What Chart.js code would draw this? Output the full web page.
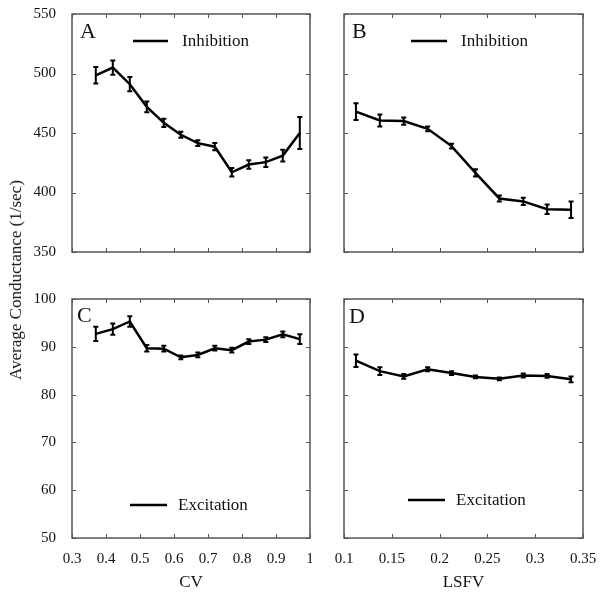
<!DOCTYPE html>
<html>
<head>
<meta charset="utf-8">
<script src="https://cdn.jsdelivr.net/npm/chart.js@4/dist/chart.umd.min.js"></script>
<style>
  body { margin: 0; background: #fff; }
  #wrap { position: relative; width: 604px; height: 596px; overflow: hidden; }
  canvas { position: absolute; }
  #ylab {
    position: absolute; left: 16px; top: 280px;
    transform: translate(-50%, -50%) rotate(-90deg);
    font-family: "Liberation Serif", serif; font-size: 17px;
    white-space: nowrap; color: #111;
  }
</style>
</head>
<body>
<div id="wrap">
  <canvas id="chartA" width="312" height="262" style="left:0;top:0"></canvas>
  <canvas id="chartB" width="332" height="262" style="left:272px;top:0"></canvas>
  <canvas id="chartC" width="312" height="311" style="left:0;top:285px"></canvas>
  <canvas id="chartD" width="332" height="311" style="left:272px;top:285px"></canvas>
  <div id="ylab">Average Conductance (1/sec)</div>
</div>
<script>
// x values
const cvX = [0.37, 0.42, 0.47, 0.52, 0.57, 0.62, 0.67, 0.72, 0.77, 0.82, 0.87, 0.92, 0.97];
const lsfvX = [0.1125, 0.1375, 0.1625, 0.1875, 0.2125, 0.2375, 0.2625, 0.2875, 0.3125, 0.3375];

// inhibition
const inhCv = [498.5, 505, 491, 472, 458.5, 448.5, 441.5, 438.5, 417, 423.5, 425.5, 431, 450];
const inhCvErr = [7, 6, 6, 4.5, 3.5, 2.5, 2.5, 3, 3.5, 3.5, 4, 5, 13.5];
const inhLsfv = [468, 460.5, 460, 453.5, 439, 416.5, 395, 392.5, 386, 385.5];
const inhLsfvErr = [7, 5, 3, 2, 2, 3, 2.5, 3, 4, 7];

// excitation
const excCv = [92.7, 93.7, 95.3, 89.7, 89.6, 87.8, 88.3, 89.7, 89.3, 91.1, 91.5, 92.6, 91.6];
const excCvErr = [1.5, 1.2, 1.1, 0.7, 0.6, 0.4, 0.5, 0.5, 0.5, 0.5, 0.5, 0.6, 1.0];
const excLsfv = [87.1, 84.9, 83.8, 85.3, 84.5, 83.7, 83.3, 84.0, 83.9, 83.2];
const excLsfvErr = [1.3, 0.8, 0.5, 0.4, 0.4, 0.3, 0.3, 0.4, 0.4, 0.6];

// axis ranges [min, max, step]
const cvRange = [0.3, 1, 0.1];
const lsfvRange = [0.1, 0.35, 0.05];
const inhRange = [350, 550, 50];
const excRange = [50, 100, 10];

const serif = '"Liberation Serif", "Times New Roman", serif';
const frameColor = '#555';

function fmt(v) {
  return String(Number(v.toFixed(2)));
}

function noPad(s) {
  s.paddingTop = 0; s.paddingBottom = 0; s.paddingLeft = 0; s.paddingRight = 0;
}

// error bars, inward ticks, frame, panel letter and legend
const panelPlugin = {
  id: 'panelDeco',
  afterDatasetsDraw(chart, args, opts) {
    const c = chart.ctx;
    const a = chart.chartArea;
    const xs = chart.scales.x, ys = chart.scales.y;

    // error bars
    const pts = chart.data.datasets[0].data;
    c.save();
    c.strokeStyle = '#000';
    c.lineWidth = 2;
    pts.forEach(p => {
      const px = xs.getPixelForValue(p.x);
      const y1 = ys.getPixelForValue(p.y - p.e);
      const y2 = ys.getPixelForValue(p.y + p.e);
      c.beginPath();
      c.moveTo(px, y1); c.lineTo(px, y2);
      c.moveTo(px - 2.5, y1); c.lineTo(px + 2.5, y1);
      c.moveTo(px - 2.5, y2); c.lineTo(px + 2.5, y2);
      c.stroke();
    });

    // inward ticks
    c.strokeStyle = frameColor;
    c.lineWidth = 1;
    c.beginPath();
    xs.ticks.forEach(t => {
      const px = Math.round(xs.getPixelForValue(t.value)) + 0.5;
      c.moveTo(px, a.bottom); c.lineTo(px, a.bottom - 4);
      c.moveTo(px, a.top); c.lineTo(px, a.top + 4);
    });
    ys.ticks.forEach(t => {
      const py = Math.round(ys.getPixelForValue(t.value)) + 0.5;
      c.moveTo(a.left, py); c.lineTo(a.left + 4, py);
      c.moveTo(a.right, py); c.lineTo(a.right - 4, py);
    });
    c.stroke();

    // frame
    c.lineWidth = 1.5;
    c.strokeRect(a.left, a.top, a.right - a.left, a.bottom - a.top);

    // panel letter
    c.fillStyle = '#111';
    c.font = '22px ' + serif;
    c.textBaseline = 'alphabetic';
    c.textAlign = 'left';
    c.fillText(opts.letter, a.left + opts.letterX, a.top + opts.letterY);

    // legend
    const ly = opts.legendFromBottom ? a.bottom - opts.legendY : a.top + opts.legendY;
    c.strokeStyle = '#000';
    c.lineWidth = 2.5;
    c.beginPath();
    c.moveTo(a.left + opts.lineX0, ly);
    c.lineTo(a.left + opts.lineX1, ly);
    c.stroke();
    c.font = '17px ' + serif;
    c.textBaseline = 'middle';
    c.fillText(opts.label, a.left + opts.textX, ly + 1);
    c.restore();
  }
};

function makePanel(id, xVals, yVals, errs, xr, yr, showX, showY, xTitle, deco, padRight) {
  const pts = xVals.map((x, i) => ({ x: x, y: yVals[i], e: errs[i] }));
  return new Chart(document.getElementById(id), {
    type: 'scatter',
    data: {
      datasets: [{
        data: pts,
        showLine: true,
        borderColor: '#000',
        borderWidth: 2.5,
        pointRadius: 0,
        tension: 0
      }]
    },
    options: {
      responsive: false,
      animation: false,
      layout: { padding: { top: 14, right: padRight, left: 0, bottom: 0 } },
      plugins: { legend: { display: false }, tooltip: { enabled: false }, panelDeco: deco },
      scales: {
        x: {
          type: 'linear', min: xr[0], max: xr[1],
          grid: { display: false, drawTicks: false },
          border: { display: false },
          ticks: {
            display: showX, stepSize: xr[2], padding: 12,
            color: '#111', font: { family: serif, size: 15 },
            callback: v => fmt(v)
          },
          title: {
            display: !!xTitle, text: xTitle, color: '#111',
            font: { family: serif, size: 17 }, padding: { top: 0, bottom: 3 }
          },
          afterFit: s => { s.height = showX ? 58 : 10; noPad(s); }
        },
        y: {
          type: 'linear', min: yr[0], max: yr[1],
          grid: { display: false, drawTicks: false },
          border: { display: false },
          ticks: {
            display: showY, stepSize: yr[2], padding: 16,
            color: '#111', font: { family: serif, size: 15 },
            callback: v => fmt(v)
          },
          afterFit: s => { s.width = 72; noPad(s); }
        }
      }
    },
    plugins: [panelPlugin]
  });
}

makePanel('chartA', cvX, inhCv, inhCvErr, cvRange, inhRange, false, true, '',
  { letter: 'A', letterX: 8, letterY: 24, label: 'Inhibition', legendY: 27, lineX0: 61, lineX1: 96, textX: 110 }, 2);
makePanel('chartB', lsfvX, inhLsfv, inhLsfvErr, lsfvRange, inhRange, false, false, '',
  { letter: 'B', letterX: 8, letterY: 24, label: 'Inhibition', legendY: 27, lineX0: 67, lineX1: 103, textX: 117 }, 21);
makePanel('chartC', cvX, excCv, excCvErr, cvRange, excRange, true, true, 'CV',
  { letter: 'C', letterX: 5, letterY: 23, label: 'Excitation', legendY: 33, legendFromBottom: true, lineX0: 58, lineX1: 95, textX: 106 }, 2);
makePanel('chartD', lsfvX, excLsfv, excLsfvErr, lsfvRange, excRange, true, false, 'LSFV',
  { letter: 'D', letterX: 5, letterY: 24, label: 'Excitation', legendY: 38, legendFromBottom: true, lineX0: 64, lineX1: 101, textX: 112 }, 21);
</script>
</body>
</html>
